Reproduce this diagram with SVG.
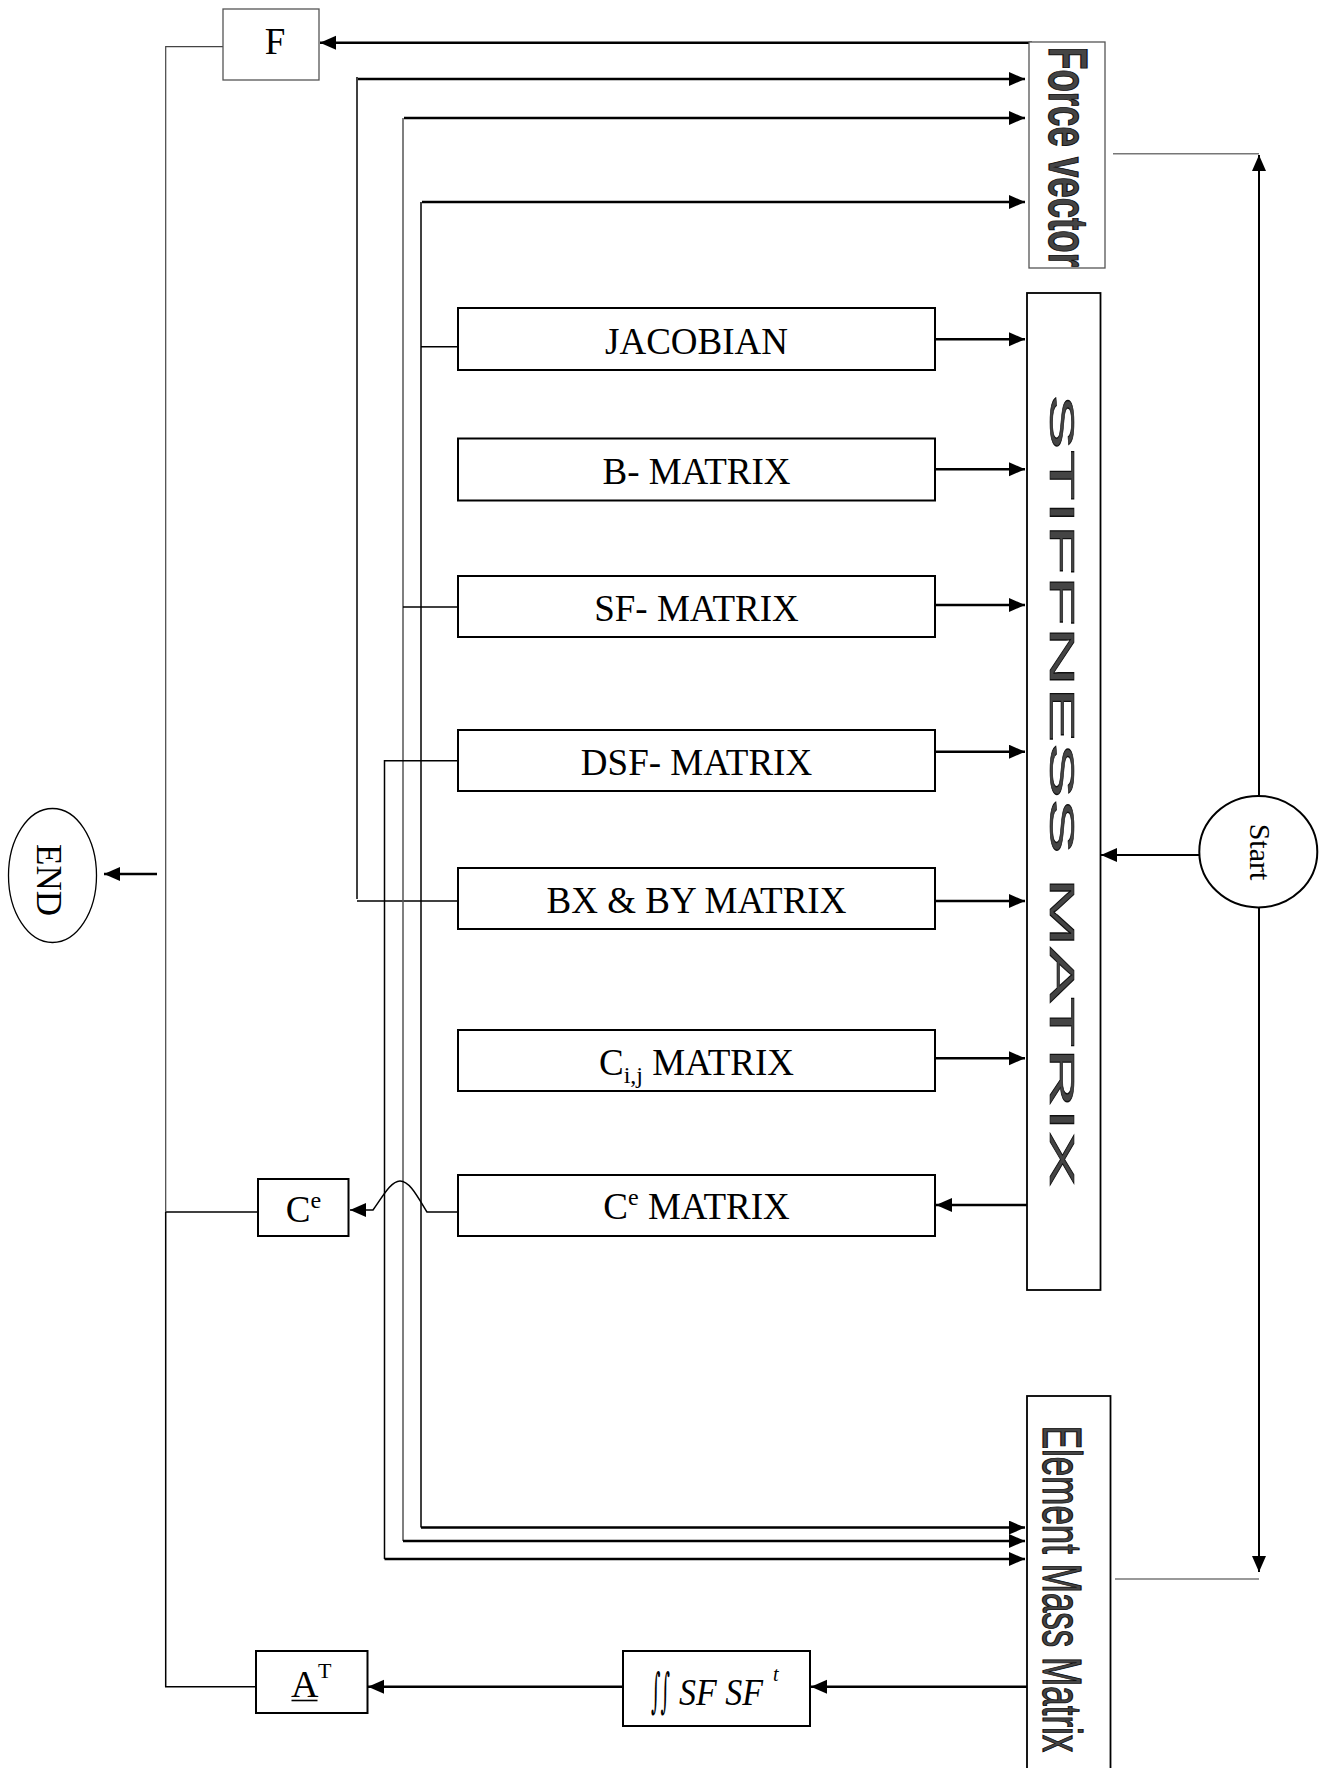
<svg xmlns="http://www.w3.org/2000/svg" width="1319" height="1768" viewBox="0 0 1319 1768">
  <style>
    .box { fill: #fff; stroke: #000; stroke-width: 2; }
    .thin { fill: #fff; stroke: #555; stroke-width: 1.3; }
    .lbl { font-family: "Liberation Serif", "Times New Roman", serif; font-size: 37px; fill: #000; }
    .big { font-family: "Liberation Sans", Arial, sans-serif; fill: #444; stroke: #111; stroke-width: 1.2; }
    .arr { fill: none; stroke: #000; stroke-width: 2.5; }
    .ln { fill: none; stroke: #000; stroke-width: 1.5; }
    .gl { fill: none; stroke: #777; stroke-width: 1.5; }
  </style>
  <defs>
    <marker id="ah" markerUnits="userSpaceOnUse" markerWidth="17" markerHeight="15" refX="16" refY="7" orient="auto-start-reverse">
      <path d="M0,0 L16,7 L0,14 z" fill="#000"/>
    </marker>
  </defs>
  <rect width="1319" height="1768" fill="#fff"/>

  <g id="connectors">
    <path class="arr" d="M1032,42.7 H320" marker-end="url(#ah)"/>
    <path class="ln" d="M357,77 V899"/>
    <path class="arr" d="M358,79 H1025" marker-end="url(#ah)"/>
    <path class="ln" d="M458,901 H357"/>
    <path class="gl" d="M403,118 V1541" style="stroke:#555"/>
    <path class="arr" d="M404,118 H1025" marker-end="url(#ah)"/>
    <path class="ln" d="M458,607 H403"/>
    <path class="arr" d="M403,1541 H1025" marker-end="url(#ah)"/>
    <path class="ln" d="M421,202 V1527.6"/>
    <path class="arr" d="M422,202 H1025" marker-end="url(#ah)"/>
    <path class="ln" d="M458,346.7 H421"/>
    <path class="arr" d="M421,1527.6 H1025" marker-end="url(#ah)"/>
    <path class="ln" d="M458,760.7 H384.5 V1559"/>
    <path class="arr" d="M384.5,1559 H1025" marker-end="url(#ah)"/>
    <path class="arr" d="M935,339.3 H1025" marker-end="url(#ah)"/>
    <path class="arr" d="M935,469.3 H1025" marker-end="url(#ah)"/>
    <path class="arr" d="M935,605 H1025" marker-end="url(#ah)"/>
    <path class="arr" d="M935,751.7 H1025" marker-end="url(#ah)"/>
    <path class="arr" d="M935,901 H1025" marker-end="url(#ah)"/>
    <path class="arr" d="M935,1058.3 H1025" marker-end="url(#ah)"/>
    <path class="arr" d="M1028,1205 H936" marker-end="url(#ah)"/>
    <path class="ln" d="M458,1212 H427 C416,1194 409,1181 400,1181 C391,1181 383,1196 373,1210 H350" marker-end="url(#ah)"/>
    <path class="ln" d="M258,1212 H165.7"/>
    <path class="gl" d="M223,46.7 H165.7 V1212" style="stroke:#444;stroke-width:1.2"/>
    <path class="ln" d="M165.7,1212 V1686.7 H256"/>
    <path class="arr" d="M157,874 H104" marker-end="url(#ah)"/>
    <path class="arr" d="M1199,855 H1101" marker-end="url(#ah)" style="stroke-width:2"/>
    <path class="arr" d="M1028,1686.7 H811" marker-end="url(#ah)"/>
    <path class="arr" d="M623,1686.7 H368" marker-end="url(#ah)"/>
    <path class="arr" d="M1259,155 V1572" marker-start="url(#ah)" marker-end="url(#ah)" style="stroke-width:2"/>
    <path class="gl" d="M1113,153.7 H1259"/>
    <path class="gl" d="M1115,1579 H1259"/>
  </g>

  <g id="node-F">
    <rect class="thin" x="223" y="9" width="96" height="71"/>
    <text class="lbl" x="275" y="53.5" text-anchor="middle">F</text>
  </g>

  <g id="node-force-vector">
    <rect class="thin" x="1029" y="42" width="76" height="226"/>
    <text class="big" font-weight="bold" font-size="55" transform="translate(1049,157) rotate(90) scale(0.666,1)" text-anchor="middle">Force vector</text>
  </g>

  <g id="node-stiffness">
    <rect class="box" x="1027" y="293" width="73.5" height="997" style="stroke-width:1.8"/>
    <text class="big" font-size="35" transform="translate(1050,790.5) rotate(90) scale(2.39,1)" text-anchor="middle" style="stroke-width:0.6">STIFFNESS MATRIX</text>
  </g>

  <g id="node-element-mass">
    <rect class="box" x="1027" y="1396" width="83.5" height="380" style="stroke-width:1.8"/>
    <text class="big" font-size="56" transform="translate(1043,1589) rotate(90) scale(0.625,1)" text-anchor="middle">Element Mass Matrix</text>
  </g>

  <g id="node-jacobian">
    <rect class="box" x="458" y="308" width="477" height="62"/>
    <text class="lbl" x="696.5" y="353.5" text-anchor="middle">JACOBIAN</text>
  </g>
  <g id="node-b-matrix">
    <rect class="box" x="458" y="438.5" width="477" height="62"/>
    <text class="lbl" x="696.5" y="484" text-anchor="middle">B- MATRIX</text>
  </g>
  <g id="node-sf-matrix">
    <rect class="box" x="458" y="576" width="477" height="61"/>
    <text class="lbl" x="696.5" y="620.5" text-anchor="middle">SF- MATRIX</text>
  </g>
  <g id="node-dsf-matrix">
    <rect class="box" x="458" y="730" width="477" height="61"/>
    <text class="lbl" x="696.5" y="775" text-anchor="middle">DSF- MATRIX</text>
  </g>
  <g id="node-bxby-matrix">
    <rect class="box" x="458" y="868" width="477" height="61"/>
    <text class="lbl" x="696.5" y="912.5" text-anchor="middle">BX &amp; BY MATRIX</text>
  </g>
  <g id="node-cij-matrix">
    <rect class="box" x="458" y="1030" width="477" height="61"/>
    <text class="lbl" x="696.5" y="1074.5" text-anchor="middle">C<tspan font-size="24" dy="8">i,j</tspan><tspan dy="-8"> MATRIX</tspan></text>
  </g>
  <g id="node-ce-matrix">
    <rect class="box" x="458" y="1175" width="477" height="61"/>
    <text class="lbl" x="696.5" y="1218.5" text-anchor="middle">C<tspan font-size="24" dy="-14">e</tspan><tspan dy="14"> MATRIX</tspan></text>
  </g>

  <g id="node-ce">
    <rect class="box" x="258" y="1179" width="90.5" height="57"/>
    <text class="lbl" x="303.5" y="1221.5" text-anchor="middle">C<tspan font-size="24" dy="-14">e</tspan></text>
  </g>

  <g id="node-start">
    <ellipse cx="1258.3" cy="851.7" rx="59" ry="55.7" fill="#fff" stroke="#000" stroke-width="2"/>
    <text class="lbl" style="font-size:30px" transform="translate(1249.5,852) rotate(90)" text-anchor="middle">Start</text>
  </g>

  <g id="node-end">
    <ellipse cx="52.5" cy="875.5" rx="44" ry="67" fill="#fff" stroke="#000" stroke-width="1.3"/>
    <text class="lbl" style="font-size:35px" transform="translate(37,880) rotate(90)" text-anchor="middle">END</text>
  </g>

  <g id="node-integral">
    <rect class="box" x="623" y="1651" width="187" height="75"/>
    <text transform="translate(651,1707) scale(0.48,1.25)" font-family="DejaVu Serif, serif" font-size="38" fill="#000">∫∫</text>
    <text class="lbl" x="679" y="1705" style="font-size:38px;font-style:italic" textLength="84" lengthAdjust="spacingAndGlyphs">SF SF</text>
    <text class="lbl" x="773" y="1681" style="font-size:20px;font-style:italic">t</text>
  </g>

  <g id="node-at">
    <rect class="box" x="256" y="1651" width="111.5" height="62"/>
    <text class="lbl" y="1696.5"><tspan x="291" font-size="38">A</tspan><tspan x="318" y="1678" font-size="22">T</tspan></text>
    <line x1="291.5" y1="1700.5" x2="317.5" y2="1700.5" stroke="#000" stroke-width="1.6"/>
  </g>
</svg>
